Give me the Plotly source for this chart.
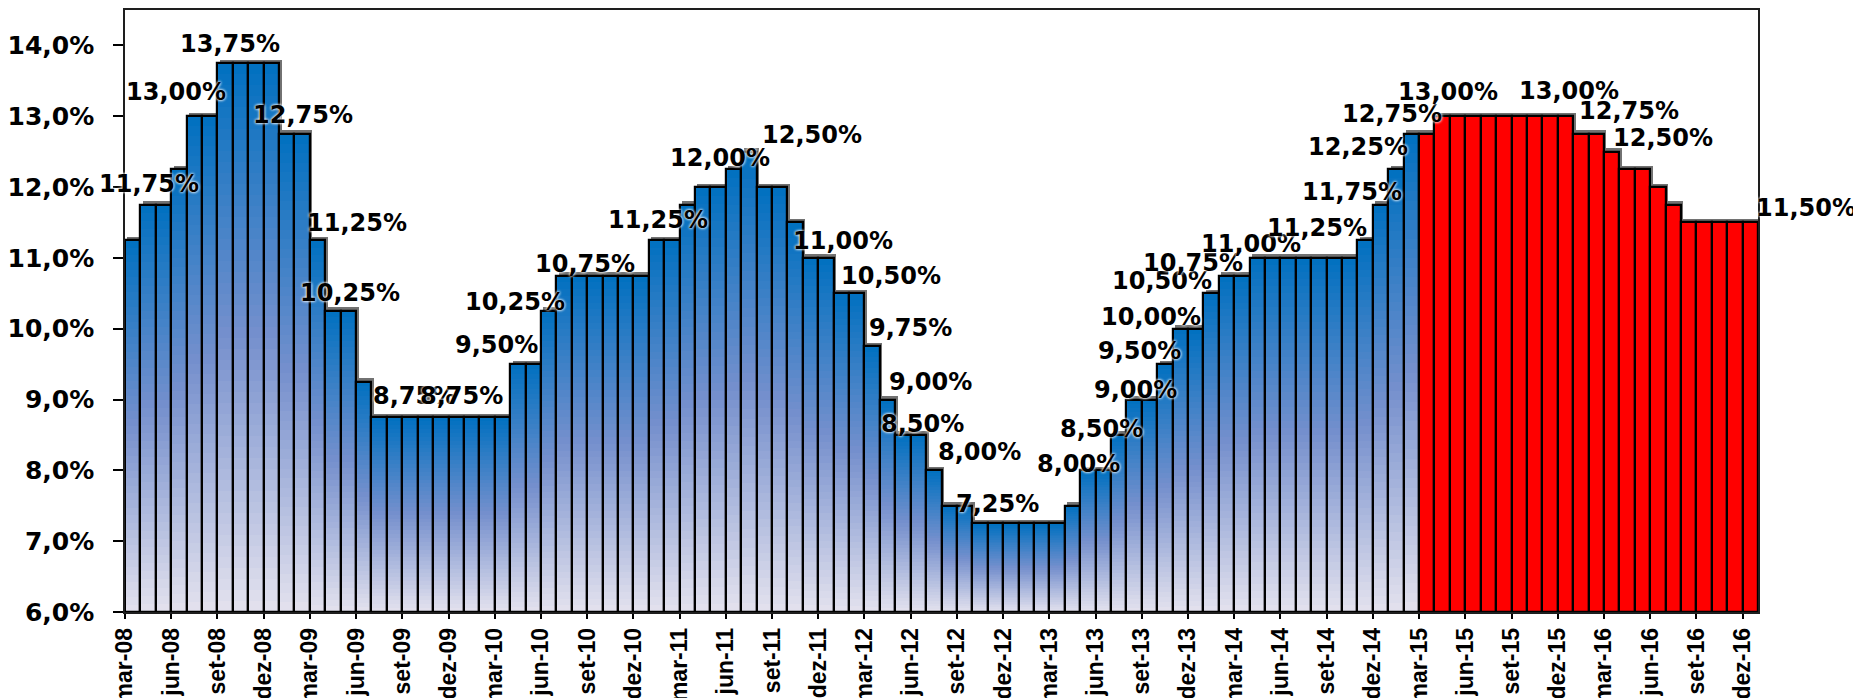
import plotly.graph_objects as go

meses = ['jan', 'fev', 'mar', 'abr', 'mai', 'jun', 'jul', 'ago', 'set', 'out', 'nov', 'dez']
# mar-08 ... dez-16
periodos = [f"{m}-{a:02d}" for a in range(8, 17) for m in meses][2:]

# taxa Selic realizada (mar-08 a fev-15)
realizado = [11.25, 11.75, 11.75, 12.25, 13.00, 13.00, 13.75, 13.75, 13.75, 13.75,
             12.75, 12.75, 11.25, 10.25, 10.25, 9.25, 8.75, 8.75, 8.75, 8.75, 8.75, 8.75,
             8.75, 8.75, 8.75, 9.50, 9.50, 10.25, 10.75, 10.75, 10.75, 10.75, 10.75, 10.75,
             11.25, 11.25, 11.75, 12.00, 12.00, 12.25, 12.50, 12.00, 12.00, 11.50, 11.00, 11.00,
             10.50, 10.50, 9.75, 9.00, 8.50, 8.50, 8.00, 7.50, 7.50, 7.25, 7.25, 7.25,
             7.25, 7.25, 7.25, 7.50, 8.00, 8.00, 8.50, 9.00, 9.00, 9.50, 10.00, 10.00,
             10.50, 10.75, 10.75, 11.00, 11.00, 11.00, 11.00, 11.00, 11.00, 11.00, 11.25, 11.75,
             12.25, 12.75]
# projecao (mar-15 a dez-16)
projecao = [12.75, 13.00, 13.00, 13.00, 13.00, 13.00, 13.00, 13.00, 13.00, 13.00,
            12.75, 12.75, 12.50, 12.25, 12.25, 12.00, 11.75, 11.50, 11.50, 11.50, 11.50, 11.50]

selic = realizado + projecao
base_y = 6.0

# bars that get a value label, and where the label sits (px from bar top)
rotulos = [1, 4, 6, 11, 12, 14, 18, 21, 25, 27, 29, 34, 38, 40, 44, 46, 48, 49, 50,
           52, 55, 62, 64, 65, 67, 68, 70, 71, 73, 80, 81, 82, 83, 85, 93, 94, 96, 105]
desloc = [(1, -21), (-18, -24), (5, -19), (1, -19), (39, -17), (2, -18), (4, -21), (5, -21),
          (-21, -19), (-34, -9), (6, -12), (1, -20), (2, -29), (63, -17), (32, -17), (50, -17),
          (38, -18), (43, -18), (20, -11), (46, -18), (17, -19), (-9, -6), (-17, -6), (1, -10),
          (-25, -13), (-29, -12), (-49, -12), (-34, -13), (-6, -14), (-48, -12), (-29, -13),
          (-38, -22), (-19, -20), (6, -24), (4, -25), (48, -23), (51, -14), (56, -14)]

x_all = list(range(len(selic)))
x_real = list(range(len(realizado)))
x_proj = list(range(len(realizado), len(selic)))

fig = go.Figure()

# soft shadow behind the bars
fig.add_trace(go.Bar(x=x_all, y=[v - base_y + 0.05 for v in selic], base=base_y,
                     width=1, offset=-0.34,
                     marker=dict(color='rgba(20,20,20,0.6)', line=dict(width=0)),
                     hoverinfo='skip'))

# gradient for the realised bars: stacked thin slices, dark blue on top
def mix(c1, c2, t):
    return tuple(round(a + (b - a) * t) for a, b in zip(c1, c2))

topo = (0, 112, 192)
meio = (118, 144, 205)
fundo = (228, 226, 238)
n = 50
for k in range(n):
    t = 1 - (k + 0.5) / n          # 0 at top, 1 at bottom
    if t < 0.5:
        c = mix(topo, meio, t / 0.5)
    else:
        c = mix(meio, fundo, (t - 0.5) / 0.5)
    alt = [(v - base_y) / n for v in realizado]
    fig.add_trace(go.Bar(x=x_real, y=[a * 1.02 for a in alt],
                         base=[base_y + a * k for a in alt], width=1,
                         marker=dict(color='rgb(%d,%d,%d)' % c, line=dict(width=0)),
                         hoverinfo='skip'))

# projected bars in red
fig.add_trace(go.Bar(x=x_proj, y=[v - base_y for v in projecao], base=base_y, width=1,
                     marker=dict(color='#ff0000', line=dict(width=0)), hoverinfo='skip'))

# outline of every bar
fig.add_trace(go.Bar(x=x_all, y=[v - base_y for v in selic], base=base_y, width=1,
                     marker=dict(color='rgba(0,0,0,0)', line=dict(color='black', width=2.2)),
                     hoverinfo='skip'))

def fmt(v):
    return f"{v:.2f}%".replace('.', ',')

annotations = []
for i, (dx, dy) in zip(rotulos, desloc):
    annotations.append(dict(x=i, y=selic[i], xref='x', yref='y', text=fmt(selic[i]),
                            showarrow=False, xanchor='center', yanchor='middle',
                            xshift=dx, yshift=-dy,
                            font=dict(family='DejaVu Sans', size=24, color='black',
                                      weight='bold',
                                      shadow='0 0 3px white, 0 0 3px white')))

# the page body adds an 8px offset, margins below compensate for it
y_ticks = [6, 7, 8, 9, 10, 11, 12, 13, 14]
fig.update_layout(
    width=1861, height=698,
    barmode='overlay', bargap=0,
    showlegend=False,
    plot_bgcolor='white', paper_bgcolor='white',
    margin=dict(l=117, r=111, t=2, b=94, autoexpand=False),
    annotations=annotations,
    xaxis=dict(range=[-0.5, len(selic) - 0.5],
               tickvals=[i - 0.5 for i in range(0, len(selic), 3)],
               ticktext=[periodos[i] for i in range(0, len(selic), 3)],
               tickangle=-90, ticks='outside', ticklen=5, tickwidth=1.5,
               tickcolor='black', automargin=False,
               showline=True, mirror=True, linecolor='rgb(30,30,30)', linewidth=1.5,
               showgrid=False, zeroline=False,
               tickfont=dict(family='Liberation Sans', size=23,
                             color='black', weight='bold')),
    yaxis=dict(range=[base_y, 14.5], tickvals=y_ticks,
               ticktext=[f"{t:.1f}%".replace('.', ',') for t in y_ticks],
               ticks='outside', ticklen=10, tickwidth=1.5, tickcolor='black',
               ticklabelstandoff=14, automargin=False,
               showline=True, mirror=True, linecolor='rgb(30,30,30)', linewidth=1.5,
               showgrid=False, zeroline=False,
               tickfont=dict(family='DejaVu Sans', size=25, color='black', weight='bold')),
)

fig.write_html("out.html")
